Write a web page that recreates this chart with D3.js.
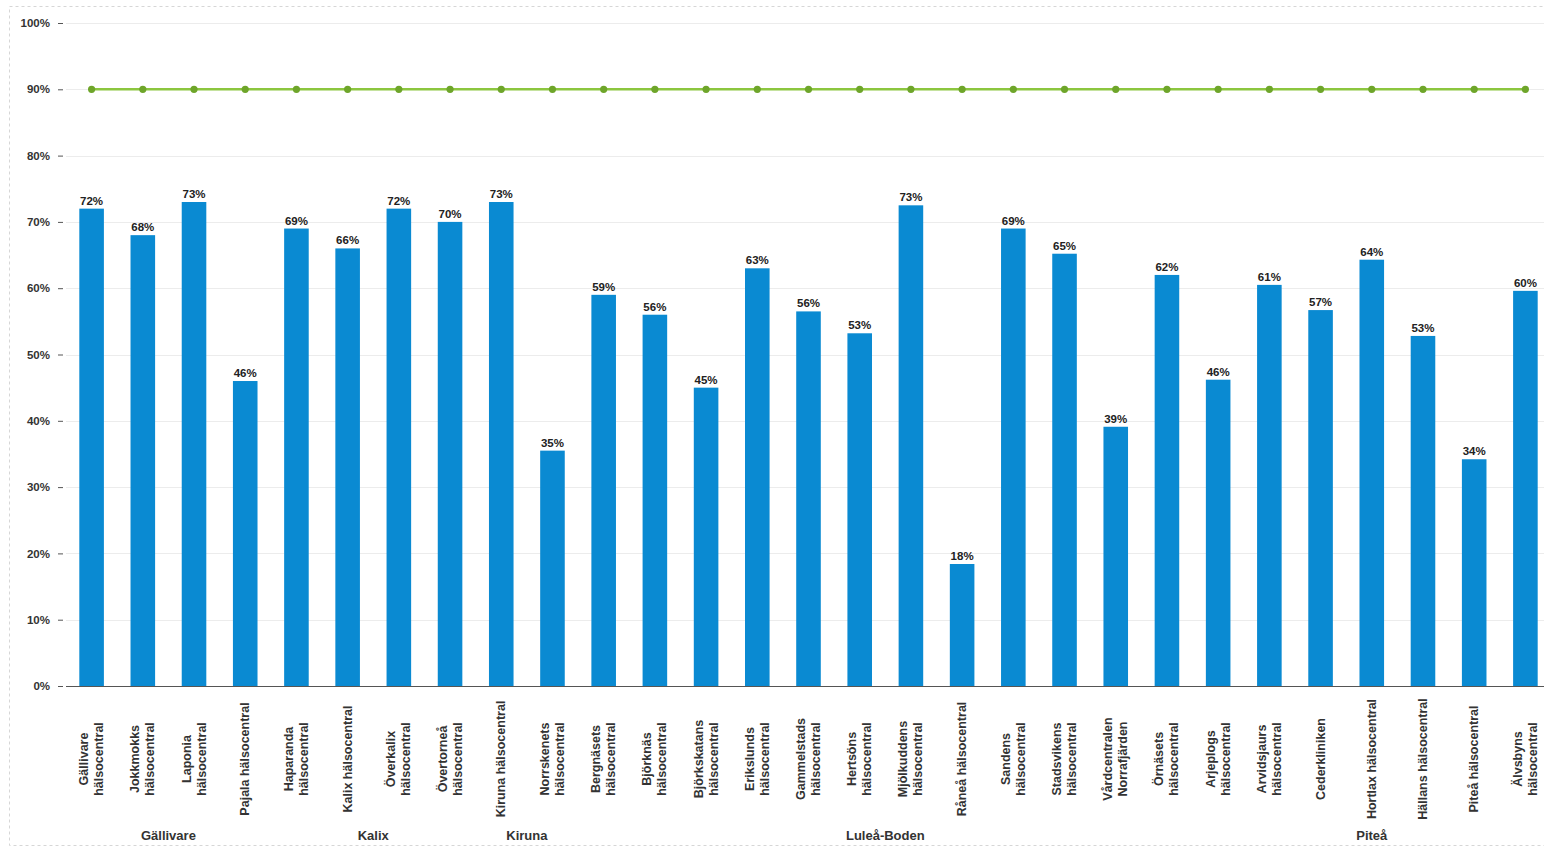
<!DOCTYPE html>
<html><head><meta charset="utf-8">
<script src="https://cdn.jsdelivr.net/npm/d3@7"></script>
<style>
html,body{margin:0;padding:0;background:#fff;}
svg{display:block;font-family:"Liberation Sans",Arial,sans-serif;}
</style></head>
<body><svg id="chart" width="1544" height="848"></svg>
<script>
const categories = [
  "Gällivare\nhälsocentral","Jokkmokks\nhälsocentral","Laponia\nhälsocentral","Pajala hälsocentral",
  "Haparanda\nhälsocentral","Kalix hälsocentral","Överkalix\nhälsocentral","Övertorneå\nhälsocentral",
  "Kiruna hälsocentral","Norrskenets\nhälsocentral",
  "Bergnäsets\nhälsocentral","Björknäs\nhälsocentral","Björkskatans\nhälsocentral","Erikslunds\nhälsocentral",
  "Gammelstads\nhälsocentral","Hertsöns\nhälsocentral","Mjölkuddens\nhälsocentral","Råneå hälsocentral",
  "Sandens\nhälsocentral","Stadsvikens\nhälsocentral","Vårdcentralen\nNorrafjärden","Örnäsets\nhälsocentral",
  "Arjeplogs\nhälsocentral","Arvidsjaurs\nhälsocentral","Cederkliniken","Hortlax hälsocentral",
  "Hällans hälsocentral","Piteå hälsocentral","Älvsbyns\nhälsocentral"
];
const values = [0.72,0.68,0.73,0.46,0.69,0.66,0.72,0.70,0.73,0.355,0.59,0.56,0.45,0.63,0.565,0.532,0.725,0.184,0.69,0.652,0.391,0.62,0.462,0.605,0.567,0.643,0.528,0.342,0.596];
const valueLabels = ["72%","68%","73%","46%","69%","66%","72%","70%","73%","35%","59%","56%","45%","63%","56%","53%","73%","18%","69%","65%","39%","62%","46%","61%","57%","64%","53%","34%","60%"];
const targetValues = categories.map(() => 0.90);
const groupNames = ["Gällivare","Kalix","Kiruna","Luleå-Boden","Piteå"];
const groupFirst = [0,4,8,10,22];
const groupLast  = [3,7,9,21,28];
const yTicks = [0,0.1,0.2,0.3,0.4,0.5,0.6,0.7,0.8,0.9,1.0];
const yTickLabels = ["0%","10%","20%","30%","40%","50%","60%","70%","80%","90%","100%"];

const svg = d3.select("#chart");
const x = d3.scaleBand().domain(d3.range(categories.length)).range([66, 1551])
  .paddingInner(0.52).paddingOuter(0.26);
const y = d3.scaleLinear().domain([0,1]).range([686, 23]);
const cx = i => x(i) + x.bandwidth()/2;

// border
svg.append("rect").attr("x",9.5).attr("y",6.5).attr("width",1600).attr("height",839)
  .attr("fill","none").attr("stroke","#d6d6d6").attr("stroke-dasharray","3,3");

// gridlines
svg.append("g").selectAll("line").data(yTicks.filter(d=>d>0)).join("line")
  .attr("x1",66).attr("x2",1544).attr("y1",d=>Math.round(y(d))+0.5).attr("y2",d=>Math.round(y(d))+0.5)
  .attr("stroke","#ececec").attr("stroke-width",1);

// y axis (ticks on left, no domain line)
const yAxis = d3.axisLeft(y).tickValues(yTicks).tickFormat((d,i)=>yTickLabels[i]).tickSize(5).tickPadding(8);
const ya = svg.append("g").attr("transform","translate(63,0)").call(yAxis);
ya.select(".domain").remove();
ya.selectAll(".tick line").attr("stroke","#555");
ya.selectAll(".tick text").attr("font-size",11.5).attr("font-weight","bold").attr("fill","#333")
  .attr("font-family","Liberation Sans, Arial, sans-serif");

// bars
svg.append("g").selectAll("rect").data(values).join("rect")
  .attr("x",(d,i)=>x(i)).attr("width",x.bandwidth())
  .attr("y",d=>y(d)).attr("height",d=>y(0)-y(d))
  .attr("fill","#0a8ad2");

// value labels
svg.append("g").selectAll("text").data(values).join("text")
  .attr("x",(d,i)=>cx(i)).attr("y",d=>y(d)-4)
  .attr("text-anchor","middle").attr("font-size",11.5).attr("font-weight","bold").attr("fill","#222")
  .text((d,i)=>valueLabels[i]);

// x axis line
svg.append("line").attr("x1",66).attr("x2",1544).attr("y1",y(0)+0.5).attr("y2",y(0)+0.5)
  .attr("stroke","#555").attr("stroke-width",1.2);

// target line
const line = d3.line().x((d,i)=>cx(i)).y(d=>y(d));
svg.append("path").datum(targetValues).attr("d",line).attr("fill","none")
  .attr("stroke","#8cc63f").attr("stroke-width",2.5);
svg.append("g").selectAll("circle").data(targetValues).join("circle")
  .attr("cx",(d,i)=>cx(i)).attr("cy",d=>y(d)).attr("r",3.6).attr("fill","#6ea52a");

// category labels (rotated)
const cl = svg.append("g").selectAll("g").data(categories).join("g")
  .attr("transform",(d,i)=>`translate(${cx(i)},759) rotate(-90)`);
cl.each(function(d){
  const lines = d.split("\n");
  const t = d3.select(this).append("text").attr("text-anchor","middle")
    .attr("font-size",12.5).attr("font-weight","bold").attr("fill","#333")
    .attr("dominant-baseline","central");
  const lh = 15;
  lines.forEach((ln,k)=>{
    t.append("tspan").attr("x",0).attr("y",(k-(lines.length-1)/2)*lh).text(ln);
  });
});

// group labels
svg.append("g").selectAll("text").data(groupNames).join("text")
  .attr("x",(d,i)=>(cx(groupFirst[i])+cx(groupLast[i]))/2).attr("y",840)
  .attr("text-anchor","middle").attr("font-size",13).attr("font-weight","bold").attr("fill","#333")
  .text(d=>d);
</script></body></html>
